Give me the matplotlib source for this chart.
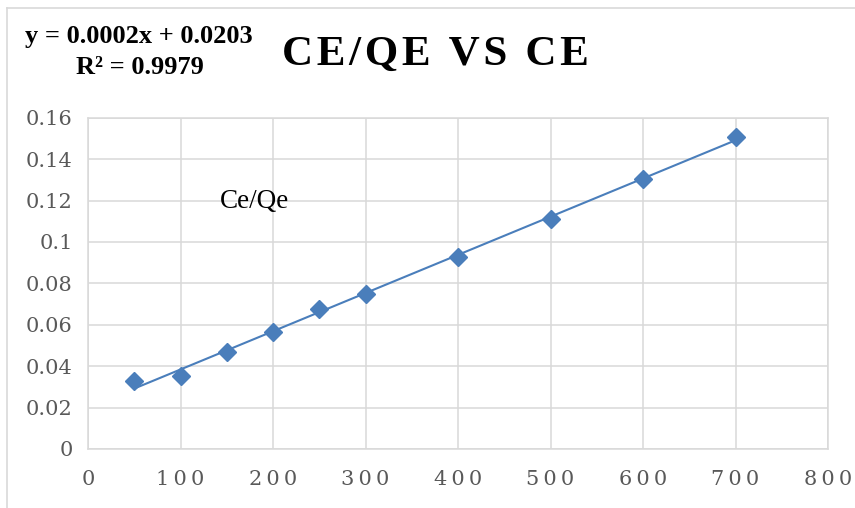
import matplotlib.pyplot as plt
from matplotlib.lines import Line2D
from matplotlib.ticker import FixedLocator, FixedFormatter
import numpy as np

# Ce values and Ce/Qe readings
ce = [50, 100, 150, 200, 250, 300, 400, 500, 600, 700]
ce_qe = [0.0330, 0.0354, 0.0467, 0.0567, 0.0675, 0.0749, 0.0929, 0.1109, 0.1304, 0.1508]

x_ticks = [0, 100, 200, 300, 400, 500, 600, 700, 800]
x_labels = ["0", "100", "200", "300", "400", "500", "600", "700", "800"]
y_ticks = [0, 0.02, 0.04, 0.06, 0.08, 0.1, 0.12, 0.14, 0.16]
y_labels = ["0", "0.02", "0.04", "0.06", "0.08", "0.1", "0.12", "0.14", "0.16"]

title = "CE/QE VS CE"
equation = "y = 0.0002x + 0.0203"
r2_text = "R² = 0.9979"
series_label = "Ce/Qe"

blue = "#4a7ebb"
grid = "#d9d9d9"

fig = plt.figure(figsize=(8.55, 5.08), dpi=100)
W, H = 855, 508

# outer chart border (left and top visible)
fig.add_artist(Line2D([7 / W, 7 / W], [0, 1 - 8 / H], transform=fig.transFigure, color=grid, lw=1.2))
fig.add_artist(Line2D([7 / W, 1], [1 - 8 / H, 1 - 8 / H], transform=fig.transFigure, color=grid, lw=1.2))

ax = fig.add_axes([88 / W, 59 / H, 740 / W, 331.3 / H])

# linear trendline
slope, intercept = np.polyfit(ce, ce_qe, 1)
xs = np.array([min(ce), max(ce)])
ax.plot(xs, slope * xs + intercept, color=blue, lw=1.5, zorder=3)
ax.plot(ce, ce_qe, linestyle="none", marker="D", ms=9, color=blue, zorder=4)

ax.set_xlim(0, 800)
ax.set_ylim(0, 0.16)
ax.xaxis.set_major_locator(FixedLocator(x_ticks))
ax.xaxis.set_major_formatter(FixedFormatter(["\u2009".join(s) for s in x_labels]))
ax.yaxis.set_major_locator(FixedLocator(y_ticks))
ax.yaxis.set_major_formatter(FixedFormatter(y_labels))
ax.grid(True, color=grid, lw=1.1)
ax.set_axisbelow(True)
for sp in ax.spines.values():
    sp.set_color(grid)
    sp.set_linewidth(1.1)
ax.tick_params(length=0, labelcolor="#595959")
ax.tick_params(axis="x", pad=15)
ax.tick_params(axis="y", pad=11)
for lab in ax.get_xticklabels() + ax.get_yticklabels():
    lab.set_family("DejaVu Serif")
    lab.set_fontsize(15)

fig.text(435 / W, 1 - 55 / H, "\u200a".join(title), ha="center", va="center", family="Liberation Serif",
         fontweight="bold", fontsize=31)
fig.text(139 / W, 1 - 36 / H, equation, ha="center", va="center", family="Liberation Serif",
         fontweight="bold", fontsize=19)
fig.text(140 / W, 1 - 68 / H, r2_text, ha="center", va="center", family="Liberation Serif",
         fontweight="bold", fontsize=19)
fig.text(254 / W, 1 - 202 / H, series_label, ha="center", va="center", family="Liberation Serif",
         fontsize=19.5)

fig.savefig("out.png", dpi=100)
